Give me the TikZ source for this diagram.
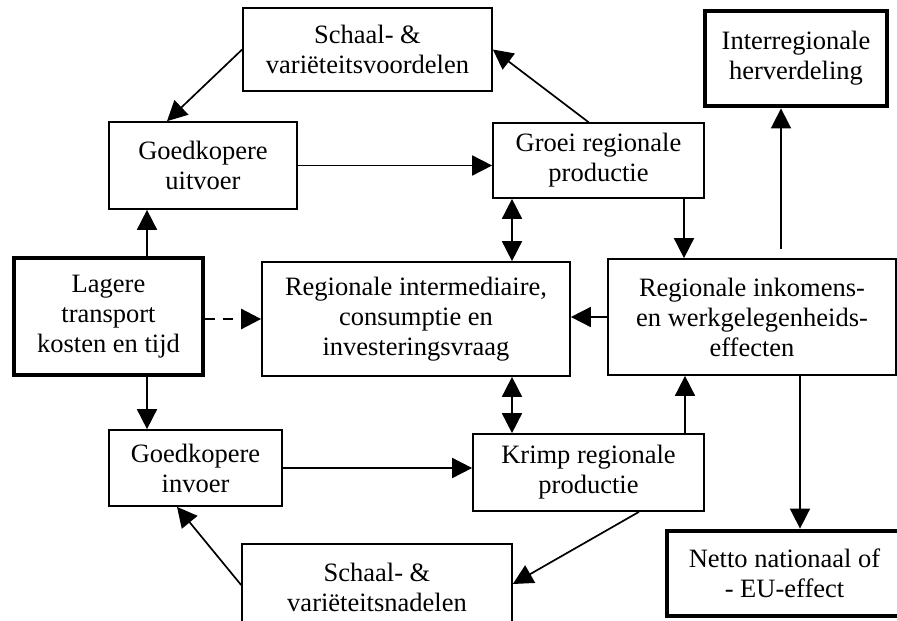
\documentclass[tikz,border=0pt]{standalone}
\usepackage{fontspec}
\setmainfont{Liberation Serif}
\usetikzlibrary{arrows.meta}
\usetikzlibrary{calc}

\tikzset{
  box/.style={draw, line width=1.7pt, align=center, inner sep=0pt,
    font=\fontsize{26.5}{30}\selectfont},
  keybox/.style={box, line width=4.8pt},
  flow/.style={line width=1.7pt, -{Triangle[length=20pt,width=20pt]}},
  twoway/.style={line width=1.7pt,
    {Triangle[length=20pt,width=20pt]}-{Triangle[length=20pt,width=20pt]}},
}

\begin{document}
\begin{tikzpicture}[x=1pt, y=-1pt]

    \useasboundingbox (0,0) rectangle (897,621);

    % cause
    \node[keybox, minimum width=189pt, minimum height=117pt] (lt) at (108.5,316.5) {Lagere\\transport\\kosten en tijd};


    % upper loop (export)
    \node[box, minimum width=249pt, minimum height=83pt] (sv) at (367.5,49.5) {Schaal- \&\\variëteitsvoordelen};
    \node[box, minimum width=188pt, minimum height=87pt] (gu) at (203,165.5) {Goedkopere\\uitvoer};
    \node[box, minimum width=211pt, minimum height=75pt] (gr) at (598.5,160.5) {Groei regionale\\productie};


    % middle row
    \node[box, minimum width=308pt, minimum height=114pt] (ri) at (416,319) {Regionale intermediaire,\\consumptie en\\investeringsvraag};
    \node[box, minimum width=288pt, minimum height=116pt] (rie) at (752,317) {Regionale inkomens-\\en werkgelegenheids-\\effecten};


    % lower loop (import)
    \node[box, minimum width=173pt, minimum height=76pt] (gi) at (195.5,468) {Goedkopere\\invoer};
    \node[box, minimum width=231pt, minimum height=77pt] (kr) at (588.5,472.5) {Krimp regionale\\productie};
    \node[box, minimum width=270pt, minimum height=86pt] (sn) at (377,587) {Schaal- \&\\variëteitsnadelen};


    % outcomes
    \node[keybox, minimum width=182pt, minimum height=95pt] (ih) at (796,58.5) {Interregionale\\herverdeling};
    \node[keybox, minimum width=235pt, minimum height=85pt] (ne) at (784.5,573.5) {Netto nationaal of\\- EU-effect};


    % arrows
    \draw[flow] ([xshift=38.5pt]lt.north) -- ([xshift=38.5pt]lt.north |- gu.south);
    \draw[flow] ([xshift=38.5pt]lt.south) -- ([xshift=38.5pt]lt.south |- gi.north);
    \draw[flow, line width=2.6pt, dash pattern=on 10pt off 8pt] (ri.west -| lt.east) -- (ri.west);

    \draw[flow] (sv.west) -- ([xshift=-36pt]gu.north);
    \draw[flow] (gu.east) -- (gu.east -| gr.west);
    \draw[flow] ([xshift=-10pt]gr.north) -- (sv.east);
    \draw[twoway] ([xshift=-86.5pt]gr.south) -- ([xshift=-86.5pt]gr.south |- ri.north);
    \draw[flow] ([xshift=85.5pt]gr.south) -- ([xshift=85.5pt]gr.south |- rie.north);

    \draw[flow] (rie.west) -- (rie.west -| ri.east);
    \draw[flow, shorten <=9pt] ([xshift=29pt]rie.north) -- ([xshift=29pt]rie.north |- ih.south);
    \draw[flow] ([xshift=48pt]rie.south) -- ([xshift=48pt]rie.south |- ne.north);

    \draw[twoway] ([xshift=96pt]ri.south) -- ([xshift=96pt]ri.south |- kr.north);
    \draw[flow] (gi.east) -- (gi.east -| kr.west);
    \draw[flow] ([xshift=96.5pt]kr.north) -- ([xshift=96.5pt]kr.north |- rie.south);
    \draw[flow] ([xshift=50.5pt]kr.south) -- ([yshift=3pt]sn.east);
    \draw[flow] ([yshift=2pt]sn.west) -- ([xshift=-18.5pt]gi.south);

\end{tikzpicture}
\end{document}
